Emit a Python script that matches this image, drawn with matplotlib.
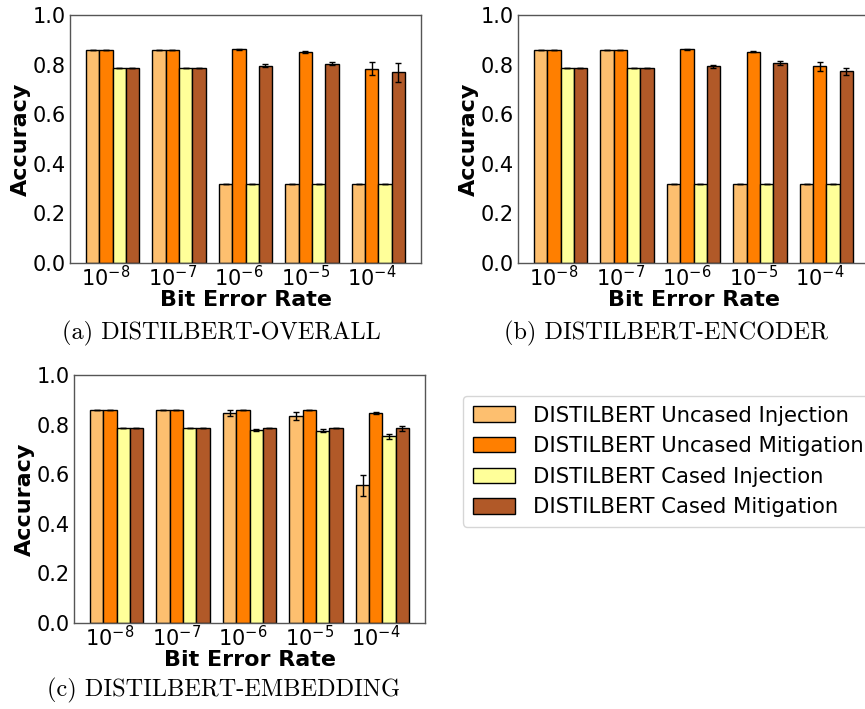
import numpy as np
import matplotlib
matplotlib.use("Agg")
import matplotlib.pyplot as plt

ber_labels = [r"$10^{-8}$", r"$10^{-7}$", r"$10^{-6}$", r"$10^{-5}$", r"$10^{-4}$"]
series_names = ["DISTILBERT Uncased Injection", "DISTILBERT Uncased Mitigation",
                "DISTILBERT Cased Injection", "DISTILBERT Cased Mitigation"]
colors = ["#fdbf6f", "#ff7f00", "#ffff99", "#b15928"]

# (a) OVERALL
a_unc_inj = [0.859, 0.859, 0.317, 0.317, 0.317]
a_unc_mit = [0.859, 0.859, 0.861, 0.852, 0.784]
a_cas_inj = [0.785, 0.785, 0.317, 0.317, 0.317]
a_cas_mit = [0.785, 0.785, 0.796, 0.804, 0.769]
a_unc_inj_err = [0, 0, 0, 0, 0]
a_unc_mit_err = [0, 0, 0.003, 0.004, 0.026]
a_cas_inj_err = [0, 0, 0, 0, 0]
a_cas_mit_err = [0, 0, 0.006, 0.005, 0.038]

# (b) ENCODER
b_unc_inj = [0.859, 0.859, 0.317, 0.317, 0.317]
b_unc_mit = [0.859, 0.859, 0.861, 0.852, 0.793]
b_cas_inj = [0.785, 0.785, 0.317, 0.317, 0.317]
b_cas_mit = [0.785, 0.785, 0.793, 0.806, 0.773]
b_unc_inj_err = [0, 0, 0, 0, 0]
b_unc_mit_err = [0, 0, 0.003, 0.003, 0.018]
b_cas_inj_err = [0, 0, 0, 0, 0]
b_cas_mit_err = [0, 0, 0.006, 0.008, 0.013]

# (c) EMBEDDING
c_unc_inj = [0.859, 0.859, 0.846, 0.836, 0.555]
c_unc_mit = [0.859, 0.859, 0.859, 0.859, 0.847]
c_cas_inj = [0.785, 0.785, 0.779, 0.776, 0.753]
c_cas_mit = [0.785, 0.785, 0.785, 0.785, 0.785]
c_unc_inj_err = [0, 0, 0.013, 0.016, 0.042]
c_unc_mit_err = [0, 0, 0, 0.001, 0.003]
c_cas_inj_err = [0, 0, 0.005, 0.007, 0.011]
c_cas_mit_err = [0, 0, 0, 0, 0.010]

panels = [
    ("(a) DISTILBERT-OVERALL",
     [a_unc_inj, a_unc_mit, a_cas_inj, a_cas_mit],
     [a_unc_inj_err, a_unc_mit_err, a_cas_inj_err, a_cas_mit_err],
     [70 / 865, 1 - 263 / 709], (221 / 865, 1 - 333 / 709)),
    ("(b) DISTILBERT-ENCODER",
     [b_unc_inj, b_unc_mit, b_cas_inj, b_cas_mit],
     [b_unc_inj_err, b_unc_mit_err, b_cas_inj_err, b_cas_mit_err],
     [518 / 865, 1 - 263 / 709], (666 / 865, 1 - 333 / 709)),
    ("(c) DISTILBERT-EMBEDDING",
     [c_unc_inj, c_unc_mit, c_cas_inj, c_cas_mit],
     [c_unc_inj_err, c_unc_mit_err, c_cas_inj_err, c_cas_mit_err],
     [74 / 865, 1 - 623 / 709], (224 / 865, 1 - 690 / 709)),
]

fig = plt.figure(figsize=(8.65, 7.09), dpi=100)
W, H = 351 / 865, 248 / 709
width = 0.2
x = np.arange(len(ber_labels))
handles = None
for caption, vals, errs, (l, b), (cx, cy) in panels:
    ax = fig.add_axes([l, b, W, H])
    hs = []
    for k in range(4):
        h = ax.bar(x + k * width, vals[k], width, yerr=errs[k], color=colors[k],
                   edgecolor="black", linewidth=1.0, label=series_names[k],
                   error_kw=dict(ecolor="black", elinewidth=1.0, capsize=2.5, capthick=1.0))
        hs.append(h)
    handles = hs
    ax.set_ylim(0, 1.0)
    ax.set_yticks([0.0, 0.2, 0.4, 0.6, 0.8, 1.0])
    ax.set_xticks(x + width)
    ax.set_xticklabels(ber_labels)
    ax.tick_params(axis="both", labelsize=15, length=0, pad=3)
    ax.tick_params(axis="x", pad=1.5)
    ax.set_ylabel("Accuracy", fontsize=16, fontweight="bold", labelpad=1)
    ax.set_xlabel("Bit Error Rate", fontsize=16, fontweight="bold", labelpad=0)
    for s in ax.spines.values():
        s.set_color("#555555")
        s.set_linewidth(1.0)
    fig.text(cx, cy, caption, ha="center", va="center", fontsize=17.5, family="cmr10")

fig.legend(handles, series_names, loc="upper left", bbox_to_anchor=(463 / 865, 1 - 396 / 709),
           fontsize=15.2, frameon=True, handlelength=2.0, handleheight=0.75, handletextpad=0.85,
           labelspacing=0.5, borderpad=0.45, borderaxespad=0, fancybox=True)

fig.savefig("out.png", dpi=100)
